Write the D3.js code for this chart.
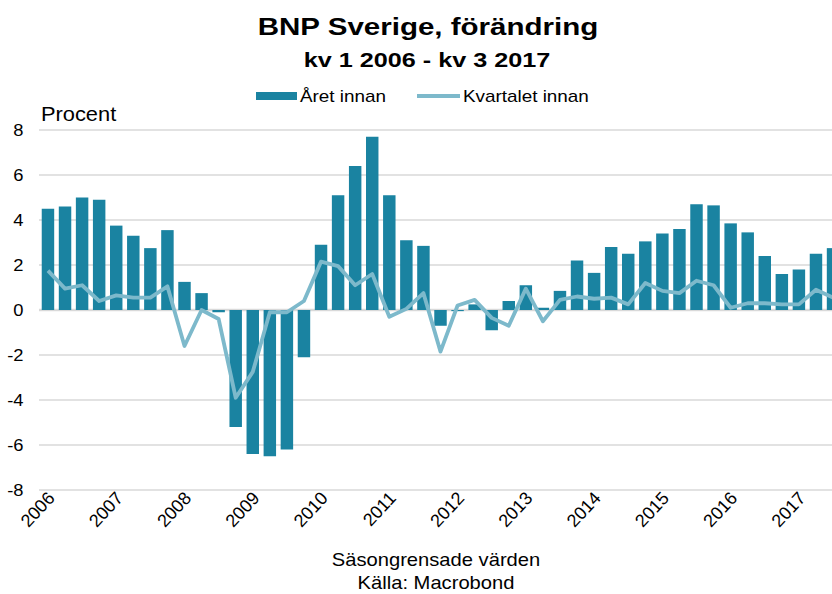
<!DOCTYPE html>
<html><head><meta charset="utf-8">
<script src="https://cdn.jsdelivr.net/npm/d3@7"></script>
<style>html,body{margin:0;padding:0;background:#fff;}svg{display:block;font-family:"Liberation Sans",Arial,sans-serif;}</style>
</head><body><svg id="c" width="832" height="594"></svg>
<script>
const years = ["2006","2007","2008","2009","2010","2011","2012","2013","2014","2015","2016","2017"];
const quarters = [];
years.forEach(y => [1,2,3,4].forEach(q => { if (!(y === "2017" && q === 4)) quarters.push(y + "Q" + q); }));
// Året innan (yoy, %)
const aretInnan = [4.5,4.6,5.0,4.9, 3.75,3.3,2.75,3.55, 1.25,0.75,-0.1,-5.2, -6.4,-6.5,-6.2,-2.1,
  2.9,5.1,6.4,7.7, 5.1,3.1,2.85,-0.7, -0.05,0.25,-0.9,0.4, 1.1,0.1,0.85,2.2,
  1.65,2.8,2.5,3.05, 3.4,3.6,4.7,4.65, 3.85,3.45,2.4,1.6, 1.8,2.5,2.75];
// Kvartalet innan (qoq, %)
const kvartaletInnan = [1.75,0.95,1.1,0.4, 0.65,0.55,0.55,1.05, -1.6,0.0,-0.4,-3.9, -2.75,-0.1,-0.1,0.4,
  2.15,1.95,1.1,1.6, -0.3,0.05,0.75,-1.85, 0.2,0.45,-0.35,-0.7, 0.95,-0.5,0.45,0.6,
  0.5,0.55,0.25,1.2, 0.85,0.75,1.3,1.1, 0.1,0.3,0.3,0.25, 0.25,0.9,0.55];
const yTicks = [-8,-6,-4,-2,0,2,4,6,8];

const svg = d3.select("#c");
const x = d3.scaleBand().domain(quarters).range([39, 842]).paddingInner(0.27).paddingOuter(0.16);
const y = d3.scaleLinear().domain([-8, 8]).range([490, 130]);

function stext(sel, tx, ty, str, size, sx, anchor, weight, extra) {
  return sel.append("text")
    .attr("transform", `translate(${tx},${ty}) scale(${sx},1)` + (extra || ""))
    .attr("text-anchor", anchor || "start")
    .attr("font-size", size)
    .attr("font-weight", weight || "normal")
    .attr("fill", "#000")
    .text(str);
}

// gridlines
svg.append("g").selectAll("line").data(yTicks).join("line")
  .attr("x1", 39).attr("x2", 832)
  .attr("y1", d => y(d)).attr("y2", d => y(d))
  .attr("stroke", "#d9d9d9").attr("stroke-width", d => d === 0 ? 2.5 : 1.5);

// y tick labels
const gy = svg.append("g");
yTicks.forEach(d => stext(gy, 23.5, y(d) + 6, d, 17, 1.08, "end"));

stext(svg, 41, 120.5, "Procent", 19.5, 1.12, "start");

// bars
svg.append("g").selectAll("rect").data(quarters).join("rect")
  .attr("x", d => x(d))
  .attr("width", x.bandwidth())
  .attr("y", (d, i) => Math.min(y(aretInnan[i]), y(0)))
  .attr("height", (d, i) => Math.abs(y(aretInnan[i]) - y(0)))
  .attr("fill", "#1a83a1");

// line
const line = d3.line()
  .x((d, i) => x(quarters[i]) + x.bandwidth() / 2)
  .y(d => y(d));
svg.append("path").datum(kvartaletInnan)
  .attr("d", line).attr("fill", "none")
  .attr("stroke", "#7db9cb").attr("stroke-width", 3.8).attr("stroke-linejoin", "round");

// x labels
const yearStarts = quarters.filter(q => q.endsWith("Q1"));
const gx = svg.append("g");
yearStarts.forEach(d => stext(gx, x(d) + 14, 499, d.slice(0, 4), 18, 1.0, "end", "normal", " rotate(-47)"));

// title
stext(svg, 428, 35, "BNP Sverige, förändring", 24, 1.23, "middle", "bold");
stext(svg, 427, 67, "kv 1 2006 - kv 3 2017", 21, 1.2, "middle", "bold");

// legend
svg.append("rect").attr("x", 256).attr("y", 92).attr("width", 41).attr("height", 8).attr("fill", "#1a83a1");
stext(svg, 300, 102, "Året innan", 16, 1.18, "start");
svg.append("line").attr("x1", 417).attr("x2", 460).attr("y1", 96).attr("y2", 96)
  .attr("stroke", "#7db9cb").attr("stroke-width", 3.8);
stext(svg, 463, 102, "Kvartalet innan", 16, 1.18, "start");

// footnotes
stext(svg, 436, 566, "Säsongrensade värden", 18, 1.12, "middle");
stext(svg, 436, 589, "Källa: Macrobond", 18, 1.12, "middle");
</script></body></html>
